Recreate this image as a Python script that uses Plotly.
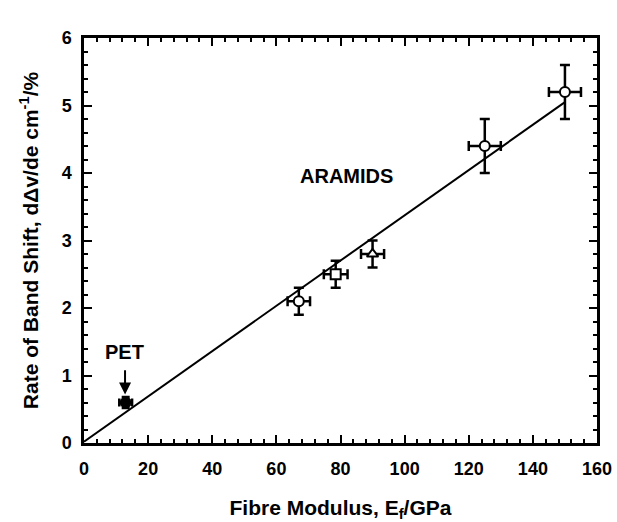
import plotly.graph_objects as go

# Data
modulus = [67, 78.5, 90, 125, 150]
shift = [2.1, 2.5, 2.8, 4.4, 5.2]
mod_err = [3.5, 3.7, 3.6, 5, 5]
shift_err = [0.2, 0.2, 0.2, 0.4, 0.4]
symbols = ["circle", "square", "triangle-up", "circle", "circle"]

pet_modulus = [13]
pet_shift = [0.6]
pet_mod_err = [2]
pet_shift_err = [0.08]

fit_x = [0, 150]
fit_y = [0.02, 5.05]

FONT = "Liberation Sans, Arial, sans-serif"

fig = go.Figure()
fig.add_trace(go.Scatter(x=fit_x, y=fit_y, mode="lines",
                         line=dict(color="black", width=2), showlegend=False))
fig.add_trace(go.Scatter(
    x=modulus, y=shift, mode="markers",
    error_x=dict(type="data", array=mod_err, color="black", thickness=2.5, width=5),
    error_y=dict(type="data", array=shift_err, color="black", thickness=2.5, width=5),
    marker=dict(symbol=symbols, size=10, color="white", line=dict(color="black", width=2)),
    showlegend=False))
fig.add_trace(go.Scatter(
    x=pet_modulus, y=pet_shift, mode="markers",
    error_x=dict(type="data", array=pet_mod_err, color="black", thickness=2.5, width=4),
    error_y=dict(type="data", array=pet_shift_err, color="black", thickness=2.5, width=4),
    marker=dict(symbol="circle", size=11, color="black", line=dict(color="black", width=1)),
    showlegend=False))

fig.add_annotation(x=82, y=3.96, text="<b>ARAMIDS</b>", showarrow=False,
                   font=dict(family=FONT, size=20, color="black"))
fig.add_annotation(x=12.5, y=1.35, text="<b>PET</b>", showarrow=False,
                   font=dict(family=FONT, size=20, color="black"))
fig.add_annotation(x=12.8, y=0.72, ax=12.8, ay=1.1, xref="x", yref="y",
                   axref="x", ayref="y", text="", showarrow=True,
                   arrowhead=2, arrowsize=1.2, arrowwidth=2, arrowcolor="black")

axis_common = dict(
    showgrid=False, zeroline=False, showline=True, linecolor="black", linewidth=2.5,
    mirror="ticks", ticks="inside", ticklen=8, tickwidth=2, tickcolor="black",
    tickfont=dict(family=FONT, size=18, color="black", weight="bold"),
    automargin=False,
)

fig.update_xaxes(range=[0, 160], dtick=20, tick0=0, ticklabelstandoff=8,
                 minor=dict(dtick=4, ticks="inside", ticklen=4, tickwidth=1.5, tickcolor="black"),
                 title=dict(text="<b>Fibre Modulus, E<sub>f</sub>/GPa</b>",
                            font=dict(family=FONT, size=21, color="black"), standoff=26),
                 **axis_common)
fig.update_yaxes(range=[0, 6], dtick=1, tick0=0, ticklabelstandoff=6,
                 minor=dict(dtick=0.2, ticks="inside", ticklen=4, tickwidth=1.5, tickcolor="black"),
                 title=dict(text="<b>Rate of Band Shift, dΔv/de cm<sup>-1</sup>/%</b>",
                            font=dict(family=FONT, size=21, color="black"), standoff=18),
                 **axis_common)

fig.update_layout(width=617, height=522, plot_bgcolor="white", paper_bgcolor="white",
                  margin=dict(l=84, r=20, t=38, b=79))

fig.write_html("out.html")
